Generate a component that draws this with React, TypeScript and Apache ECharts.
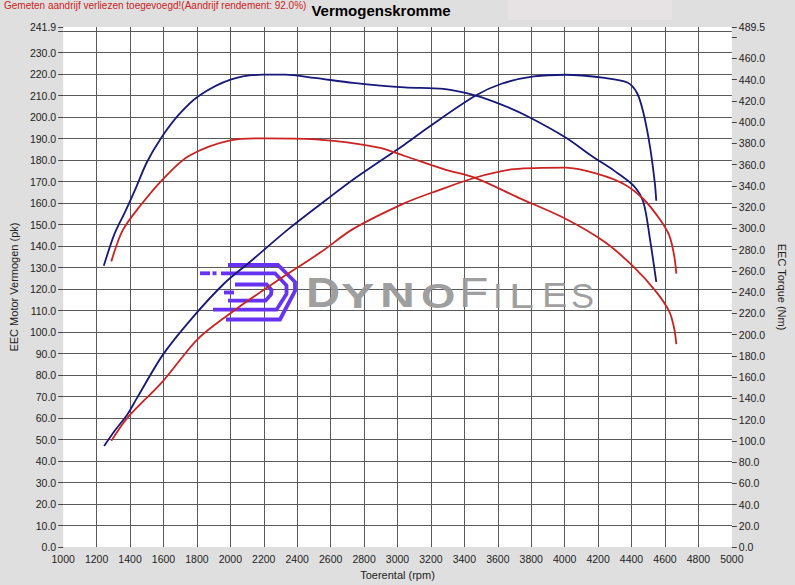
import React, { useEffect, useRef } from 'react';
import * as echarts from 'echarts';

const NOTE = 'Gemeten aandrijf verliezen toegevoegd!(Aandrijf rendement: 92.0%)';
const TITLE = 'Vermogenskromme';
const X_NAME = 'Toerental (rpm)';
const Y_LEFT_NAME = 'EEC Motor Vermogen (pk)';
const Y_RIGHT_NAME = 'EEC Torque (Nm)';

// x axis (rpm)
const X_MIN = 1000;
const X_MAX = 5000;
const X_STEP = 200;
// left axis (pk)
const PK_MAX = 241.9;
const PK_STEP = 10;
// right axis (Nm)
const NM_MAX = 489.5;
const NM_STEP = 20;

// Blue power curve (pk)
const bluePowerRpm = [1245, 1307, 1384, 1442, 1596, 1770, 1963, 2117, 2349, 2580, 2754, 3043, 3198, 3468, 3622, 3815, 4008, 4240, 4375, 4433, 4471, 4510, 4539, 4548];
const bluePowerPk = [47.0, 54.0, 61.7, 69.4, 89.4, 106.4, 122.6, 132.6, 148.0, 161.9, 172.0, 187.3, 196.0, 210.0, 215.5, 218.9, 219.7, 218.2, 216.1, 211.2, 202.0, 186.5, 169.6, 161.1];

// Red power curve (pk)
const redPowerRpm = [1288, 1384, 1596, 1809, 2040, 2272, 2542, 2735, 3043, 3236, 3468, 3699, 4008, 4201, 4356, 4471, 4568, 4626, 4655, 4668];
const redPowerPk = [49.4, 60.1, 77.1, 97.1, 111.0, 123.4, 137.2, 148.0, 160.0, 165.7, 171.9, 175.8, 176.5, 173.5, 168.8, 161.9, 152.6, 144.9, 135.7, 127.2];

// Blue torque curve (Nm)
const blueTorqueRpm = [1243, 1307, 1374, 1432, 1500, 1587, 1693, 1809, 2001, 2194, 2330, 2503, 2735, 3043, 3275, 3468, 3622, 3777, 4008, 4162, 4298, 4413, 4471, 4510, 4548];
const blueTorqueNm = [264.7, 294.8, 316.7, 336.9, 362.0, 385.3, 407.2, 424.4, 439.9, 444.6, 444.6, 441.6, 436.9, 432.6, 431.2, 425.0, 416.5, 405.5, 385.3, 368.1, 354.1, 340.0, 324.6, 290.2, 249.7];

// Red torque curve (Nm)
const redTorqueRpm = [1288, 1355, 1461, 1596, 1751, 2001, 2194, 2388, 2619, 2889, 3043, 3275, 3468, 3719, 4008, 4240, 4413, 4548, 4626, 4655, 4668];
const redTorqueNm = [268.9, 297.9, 321.3, 346.2, 368.1, 382.9, 384.7, 384.5, 382.3, 376.0, 368.1, 355.7, 347.3, 329.2, 308.8, 287.1, 263.7, 240.2, 221.6, 206.0, 191.0];

const BLUE = '#16187a';
const RED = '#cc2222';
const LOGO_PURPLE = '#6633f2';
const LOGO_GRAY = '#999999';
const NARROW = "'Liberation Sans Narrow', 'Liberation Sans', Arial, sans-serif";
const SANS = "'Liberation Sans', Arial, sans-serif";

const zip = (xs: number[], ys: number[]) => xs.map((x, i) => [x, ys[i]]);

function buildOption(): any {
  const lineSeries = (name: string, data: number[][], color: string, yAxisIndex: number) => ({
    name,
    type: 'line',
    data,
    yAxisIndex,
    smooth: 0.3,
    showSymbol: false,
    lineStyle: { color, width: 1.8 },
    itemStyle: { color },
    z: 3,
  });

  const logoLine = (points: number[][]) => ({
    type: 'polyline',
    shape: { points },
    style: { stroke: LOGO_PURPLE, lineWidth: 3.8, fill: null, lineJoin: 'miter', lineCap: 'butt' },
    z: 1,
    silent: true,
  });

  const letter = (ch: string, x: number, y: number, size: number, bold: boolean, scaleX: number) => ({
    type: 'text',
    x,
    y,
    scaleX,
    z: 1,
    silent: true,
    style: {
      text: ch,
      fill: LOGO_GRAY,
      font: `${bold ? 'bold ' : ''}${size}px ${SANS}`,
      textAlign: 'left',
      textVerticalAlign: 'middle',
      opacity: 0.95,
    },
  });

  return {
    animation: false,
    backgroundColor: '#dfdfdf',
    grid: {
      left: 47,
      right: 57,
      top: 27,
      bottom: 33,
      show: true,
      backgroundColor: '#ffffff',
      borderWidth: 0,
    },
    xAxis: {
      type: 'value',
      min: X_MIN,
      max: X_MAX,
      interval: X_STEP,
      name: X_NAME,
      nameLocation: 'middle',
      nameGap: 19,
      nameTextStyle: { fontFamily: NARROW, fontSize: 11, color: '#222' },
      axisLine: { show: false },
      axisTick: { show: false },
      axisLabel: { fontFamily: NARROW, fontSize: 10.5, color: '#222', margin: 6, formatter: (v: number) => String(v) },
      splitLine: { show: true, showMinLine: false, showMaxLine: false, lineStyle: { color: '#5a5a5a', width: 1 } },
    },
    yAxis: [
      {
        type: 'value',
        position: 'left',
        min: 0,
        max: PK_MAX,
        interval: PK_STEP,
        name: Y_LEFT_NAME,
        nameLocation: 'middle',
        nameGap: 35,
        nameTextStyle: { fontFamily: NARROW, fontSize: 11, color: '#222' },
        axisLine: { show: false },
        axisTick: { show: true, length: 5, lineStyle: { color: '#444' } },
        axisLabel: {
          fontFamily: NARROW,
          fontSize: 10.5,
          color: '#222',
          margin: 7,
          formatter: (v: number) => (Math.abs(v - 240) < 1e-6 ? '' : v.toFixed(1)),
        },
        splitLine: { show: true, showMinLine: false, showMaxLine: false, lineStyle: { color: '#5a5a5a', width: 1 } },
      },
      {
        type: 'value',
        position: 'right',
        min: 0,
        max: NM_MAX,
        interval: NM_STEP,
        name: Y_RIGHT_NAME,
        nameLocation: 'middle',
        nameRotate: -90,
        nameGap: 22,
        nameTextStyle: { fontFamily: NARROW, fontSize: 11, color: '#222' },
        axisLine: { show: false },
        axisTick: { show: true, length: 5, lineStyle: { color: '#444' } },
        axisLabel: {
          fontFamily: NARROW,
          fontSize: 10.5,
          color: '#222',
          margin: 7,
          formatter: (v: number) => (Math.abs(v - 480) < 1e-6 ? '' : v.toFixed(1)),
        },
        splitLine: { show: false },
      },
    ],
    graphic: [
      {
        type: 'rect',
        shape: { x: 508, y: 0, width: 164, height: 20 },
        style: { fill: '#e7e3e5' },
        z: 0,
        silent: true,
      },
      {
        type: 'text',
        x: 4,
        y: 5,
        style: { text: NOTE, fill: RED, font: `10px ${NARROW}`, textAlign: 'left', textVerticalAlign: 'middle' },
        z: 5,
      },
      {
        type: 'text',
        x: 381,
        y: 10,
        style: { text: TITLE, fill: '#000', font: `bold 15px ${SANS}`, textAlign: 'center', textVerticalAlign: 'middle' },
        z: 5,
      },
      // DynoFiles watermark icon
      logoLine([[228, 265], [278, 265], [295, 282], [295, 291], [280, 319.5], [226, 319.5]]),
      logoLine([[221, 273.3], [275, 273.3], [286.5, 285.5], [286.5, 294], [276.5, 309.7], [213, 309.7]]),
      logoLine([[235, 284.5], [266.5, 284.5], [271.5, 290], [271, 294.5], [265.5, 300.7], [228, 300.7]]),
      logoLine([[200, 273.3], [210, 273.3]]),
      logoLine([[212.5, 273.3], [216.5, 273.3]]),
      logoLine([[224, 292.5], [234, 292.5]]),
      // DynoFiles watermark word
      letter('D', 306, 292.5, 43, true, 1.1),
      letter('Y', 341, 295.5, 34.5, true, 1.45),
      letter('N', 380, 295.5, 34.5, true, 1.4),
      letter('O', 421, 295.5, 34.5, true, 1.28),
      letter('F', 459, 292.5, 43, false, 1.12),
      letter('I', 493, 295.5, 34.5, false, 1.0),
      letter('L', 509, 295.5, 34.5, false, 1.3),
      letter('E', 542, 295.5, 34.5, false, 1.1),
      letter('S', 571, 295.5, 34.5, false, 1.0),
    ],
    series: [
      lineSeries('Vermogen 1', zip(bluePowerRpm, bluePowerPk), BLUE, 0),
      lineSeries('Koppel 1', zip(blueTorqueRpm, blueTorqueNm), BLUE, 1),
      lineSeries('Vermogen 2', zip(redPowerRpm, redPowerPk), RED, 0),
      lineSeries('Koppel 2', zip(redTorqueRpm, redTorqueNm), RED, 1),
    ],
  };
}

export default function App() {
  const ref = useRef<HTMLDivElement>(null);
  useEffect(() => {
    if (!ref.current) return;
    const chart = echarts.init(ref.current, null, { renderer: 'svg' });
    chart.setOption(buildOption());
    return () => chart.dispose();
  }, []);
  return (
    <div
      ref={ref}
      style={{ position: 'absolute', left: 0, top: 0, width: 795, height: 585, background: '#dfdfdf' }}
    />
  );
}
